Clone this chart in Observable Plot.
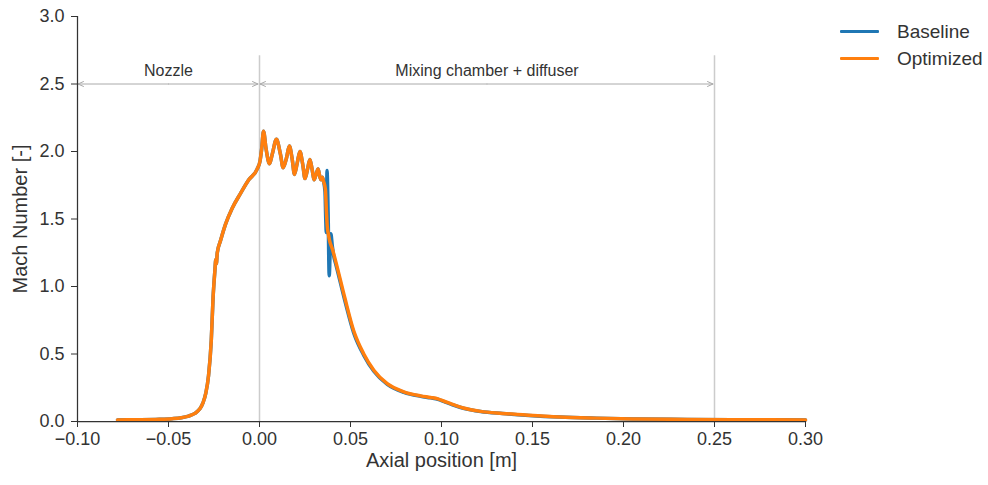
<!DOCTYPE html>
<html>
<head>
<meta charset="utf-8">
<script src="https://cdn.jsdelivr.net/npm/d3@7"></script>
<script src="https://cdn.jsdelivr.net/npm/@observablehq/plot@0.6"></script>
<style>
  html, body { margin: 0; padding: 0; background: #fff; }
  #wrap { position: relative; width: 988px; height: 485px; font-family: "Liberation Sans", Arial, sans-serif; }
  #legend { position: absolute; left: 840px; top: 18px; color: #333; font-size: 19px; }
  .row { display: flex; align-items: center; height: 27px; }
  .sw { width: 39px; height: 3.5px; margin-right: 18px; border-radius: 1px; }
</style>
</head>
<body>
<div id="wrap"><div id="legend"></div></div>
<script>
// ---- data ----
const seriesNames = ["Baseline", "Optimized"];
const seriesColors = ["#1f77b4", "#ff7f0e"];

const xOptimized = [-0.078,-0.065,-0.055,-0.048,-0.043,-0.039,-0.0355,-0.033,-0.031,-0.0295,-0.028,-0.0265,-0.0255,-0.0245,-0.0240,-0.0237,-0.0232,-0.0214,-0.0187,-0.0150,-0.0104,-0.0059,-0.0013,0.0003,0.0012,0.0022,0.0036,0.0055,0.0070,0.0093,0.0115,0.0130,0.0148,0.0164,0.0180,0.0192,0.0208,0.0222,0.0238,0.0250,0.0264,0.0277,0.0290,0.0300,0.0311,0.0322,0.0332,0.0338,0.0345,0.0352,0.0362,0.0368,0.0372,0.0378,0.0385,0.0400,0.0418,0.0468,0.0518,0.0573,0.0628,0.0702,0.0793,0.0885,0.0940,0.0980,0.1015,0.1060,0.1120,0.1215,0.1335,0.1480,0.1650,0.1850,0.2070,0.2350,0.2650,0.3000];
const yOptimized = [0.012,0.013,0.016,0.021,0.028,0.040,0.060,0.09,0.14,0.21,0.34,0.60,0.92,1.12,1.20,1.17,1.25,1.34,1.46,1.58,1.69,1.79,1.87,1.93,2.02,2.15,2.02,1.91,1.98,2.09,1.98,1.88,1.95,2.04,1.94,1.83,1.92,2.00,1.90,1.80,1.87,1.94,1.86,1.79,1.83,1.87,1.81,1.79,1.81,1.78,1.72,1.55,1.45,1.39,1.34,1.28,1.19,0.92,0.67,0.50,0.38,0.28,0.22,0.19,0.178,0.168,0.150,0.127,0.100,0.075,0.060,0.046,0.033,0.025,0.019,0.015,0.013,0.012];

const xBaseline = [-0.078,-0.065,-0.055,-0.048,-0.043,-0.039,-0.0355,-0.033,-0.031,-0.0295,-0.028,-0.0265,-0.0255,-0.0245,-0.0240,-0.0237,-0.0232,-0.0214,-0.0187,-0.0150,-0.0104,-0.0059,-0.0013,0.0003,0.0012,0.0022,0.0036,0.0055,0.0070,0.0093,0.0115,0.0130,0.0148,0.0164,0.0180,0.0192,0.0208,0.0222,0.0238,0.0250,0.0264,0.0277,0.0290,0.0300,0.0311,0.0322,0.0332,0.0338,0.0345,0.0352,0.0360,0.0364,0.0367,0.0371,0.0377,0.0383,0.0392,0.0400,0.0410,0.0418,0.0468,0.0518,0.0573,0.0628,0.0702,0.0793,0.0885,0.0940,0.0980,0.1015,0.1060,0.1120,0.1215,0.1335,0.1480,0.1650,0.1850,0.2070,0.2350,0.2650,0.3000];
const yBaseline = [0.012,0.013,0.016,0.021,0.028,0.040,0.060,0.09,0.14,0.21,0.34,0.60,0.92,1.12,1.20,1.17,1.25,1.34,1.46,1.58,1.69,1.79,1.87,1.93,2.02,2.15,2.02,1.91,1.98,2.09,1.98,1.88,1.95,2.04,1.94,1.83,1.92,2.00,1.90,1.80,1.87,1.94,1.86,1.79,1.83,1.87,1.81,1.79,1.81,1.78,1.70,1.50,1.40,1.86,1.55,1.08,1.39,1.30,1.21,1.17,0.90,0.655,0.49,0.372,0.275,0.216,0.187,0.175,0.165,0.147,0.124,0.098,0.074,0.059,0.045,0.033,0.025,0.019,0.015,0.013,0.012];

const regionNames = ["Nozzle", "Mixing chamber + diffuser"];
const regionBounds = [-0.10, 0.00, 0.25];
const arrowY = 2.5;
const regionLabelY = 2.6;
const dividerTop = 2.71;

const xDomain = [-0.10, 0.30];
const yDomain = [0, 3.0];
const xTicks = [-0.10, -0.05, 0.00, 0.05, 0.10, 0.15, 0.20, 0.25, 0.30];
const yTicks = [0.0, 0.5, 1.0, 1.5, 2.0, 2.5, 3.0];
const xLabel = "Axial position [m]";
const yLabel = "Mach Number [-]";

// ---- build ----
const baseline = xBaseline.map((x, i) => ({x, y: yBaseline[i]}));
const optimized = xOptimized.map((x, i) => ({x, y: yOptimized[i]}));
const regions = regionNames.map((name, i) => ({
  name, x1: regionBounds[i], x2: regionBounds[i + 1], mid: (regionBounds[i] + regionBounds[i + 1]) / 2
}));
const fmt = (d, n) => (d < 0 ? "\u2212" : "") + Math.abs(d).toFixed(n);

const chart = Plot.plot({
  width: 988, height: 485,
  marginLeft: 77, marginRight: 183, marginTop: 16, marginBottom: 64,
  style: {fontFamily: "'Liberation Sans', Arial, sans-serif", fontSize: "18px", color: "#333", background: "white"},
  x: {domain: xDomain},
  y: {domain: yDomain},
  marks: [
    Plot.ruleX(regionBounds.slice(1), {y1: yDomain[0], y2: dividerTop, stroke: "#cccccc", strokeWidth: 1.5}),
    Plot.arrow(regions, {x1: "mid", x2: "x1", y1: arrowY, y2: arrowY, stroke: "#aaaaaa", strokeWidth: 1, headLength: 9, headAngle: 48, insetEnd: 0.5}),
    Plot.arrow(regions, {x1: "mid", x2: "x2", y1: arrowY, y2: arrowY, stroke: "#aaaaaa", strokeWidth: 1, headLength: 9, headAngle: 48, insetEnd: 1.5}),
    Plot.text(regions, {x: "mid", y: regionLabelY, text: "name", fontSize: 16, fill: "#333"}),
    Plot.line(baseline, {x: "x", y: "y", stroke: seriesColors[0], strokeWidth: 3.5, curve: "monotone-x"}),
    Plot.line(optimized, {x: "x", y: "y", stroke: seriesColors[1], strokeWidth: 3.5, curve: "monotone-x"}),
    Plot.ruleX([xDomain[0]], {stroke: "#333", strokeWidth: 1.25}),
    Plot.ruleY([yDomain[0]], {stroke: "#333", strokeWidth: 1.25}),
    Plot.axisX({ticks: xTicks, tickFormat: d => fmt(d, 2), tickSize: 6, tickPadding: 5, label: null, fontSize: 18}),
    Plot.axisY({ticks: yTicks, tickFormat: d => fmt(d, 1), tickSize: 6, tickPadding: 7, label: null, fontSize: 18}),
    Plot.text([xLabel], {frameAnchor: "bottom", dy: 45, fontSize: 20, fill: "#333"}),
    Plot.text([yLabel], {frameAnchor: "left", dx: -57, rotate: -90, textAnchor: "middle", fontSize: 20, fill: "#333"})
  ]
});
document.getElementById("wrap").prepend(chart);

const legend = document.getElementById("legend");
seriesNames.forEach((name, i) => {
  const row = document.createElement("div");
  row.className = "row";
  const sw = document.createElement("span");
  sw.className = "sw";
  sw.style.background = seriesColors[i];
  const t = document.createElement("span");
  t.textContent = name;
  row.appendChild(sw);
  row.appendChild(t);
  legend.appendChild(row);
});
</script>
</body>
</html>
